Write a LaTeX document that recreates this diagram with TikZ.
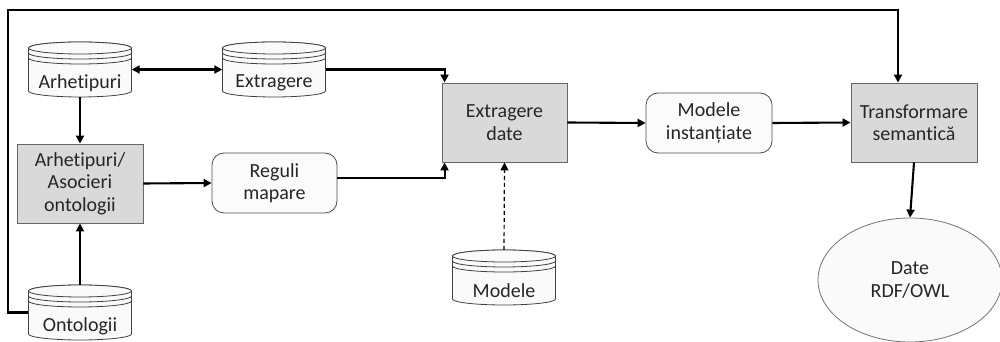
\documentclass[tikz,border=0pt]{standalone}
\usepackage{fontspec}
\setmainfont{Carlito}[RawFeature={-liga;-clig;-calt;-dlig}]
\usetikzlibrary{arrows.meta,shapes.geometric}

\newcommand\dbcyl[4]{%
	\filldraw[dbline] (#1-51.5,#2-6) -- (#1-51.5,#2-49) arc[start angle=180,end angle=360,x radius=51.5,y radius=6]
		-- (#1+51.5,#2-6) arc[start angle=0,end angle=180,x radius=51.5,y radius=6] -- cycle;
	\draw[dbline] (#1,#2-6) ellipse[x radius=51.5,y radius=6];
	\foreach \k in {11,16}{
		\draw[dbline,fill=none] (#1-51.5,#2-\k) arc[start angle=180,end angle=360,x radius=51.5,y radius=6];}
	\node[dbbox] (#3) at (#1,#2-27.5) {};
	\node[lbl] (#3t) at (#1,#2-41) {#4};
}

\begin{document}
\begin{tikzpicture}[x=1pt,y=1pt,line join=miter,font=\fontsize{20}{22.5}\selectfont]
	\tikzset{dbline/.style={draw=black!75,line width=0.8pt,fill=gray!4},
		dbbox/.style={rectangle,minimum width=103pt,minimum height=55pt,inner sep=0pt},
		lbl/.style={inner sep=0pt,align=center,text=black!85},
		procbox/.style={rectangle,draw=black!60,line width=0.9pt,fill=gray!30,minimum width=126pt,minimum height=79pt,align=center,inner sep=0pt,text=black!85},
		rulebox/.style={rectangle,rounded corners=12pt,draw=black!70,line width=0.8pt,fill=gray!3,minimum width=125pt,minimum height=60pt,align=center,inner sep=0pt,text=black!85},
		arr/.style={line width=2.1pt,-{Triangle[length=8pt,width=8pt]}}}
	\useasboundingbox (0,0) rectangle (1000,342);
	\dbcyl{80}{300}{arh}{Arhetipuri}
	\dbcyl{274}{300}{extr}{Extragere}
	\dbcyl{80}{57}{onto}{Ontologii}
	\dbcyl{504}{92}{mod}{Modele}
	\node[procbox] (asoc) at (80,158.5) {Arhetipuri/\\Asocieri\\ontologii};
	\node[rulebox] (reg) at (274.5,159) {Reguli\\mapare};
	\node[procbox,minimum width=125pt] (date) at (504.5,219.5) {Extragere\\date};
	\node[rulebox,minimum width=126pt] (inst) at (709,219) {Modele\\instanțiate};
	\node[procbox] (trans) at (914,219.5) {Transformare\\semantică};
	\begin{scope}
		\clip (0,0) rectangle (1000,342);
		\node[ellipse,draw=black!55,line width=0.8pt,fill=gray!4,minimum width=184pt,minimum height=124pt,inner sep=0pt,align=center,text=black!85] (rdf) at (910,62) {Date\\RDF/OWL};
	\end{scope}
	\coordinate (lt) at (8,332);
	\draw[line width=2.1pt,{Triangle[length=8pt,width=8pt]}-{Triangle[length=8pt,width=8pt]}] (arh.east) -- (extr.west);
	\draw[arr] (arh.south) -- (asoc.north);
	\draw[arr] (onto.north) -- (asoc.south);
	\draw[arr] (asoc.east) -- (reg.west);
	\draw[arr] (extr.east) -| ([xshift=3pt]date.north west);
	\draw[arr] ([yshift=5pt]reg.east) -| ([xshift=3pt]date.south west);
	\draw[line width=1.2pt,dash pattern=on 4pt off 3pt,-{Triangle[length=8pt,width=8pt]}] (mod.north) -- (date.south);
	\draw[arr] (date.east) -- (inst.west);
	\draw[arr] (inst.east) -- (trans.west);
	\draw[arr] (trans.south) -- (rdf.north);
	\draw[arr] (onto.west) -| (lt) -| ([xshift=-16pt]trans.north);
\end{tikzpicture}
\end{document}
